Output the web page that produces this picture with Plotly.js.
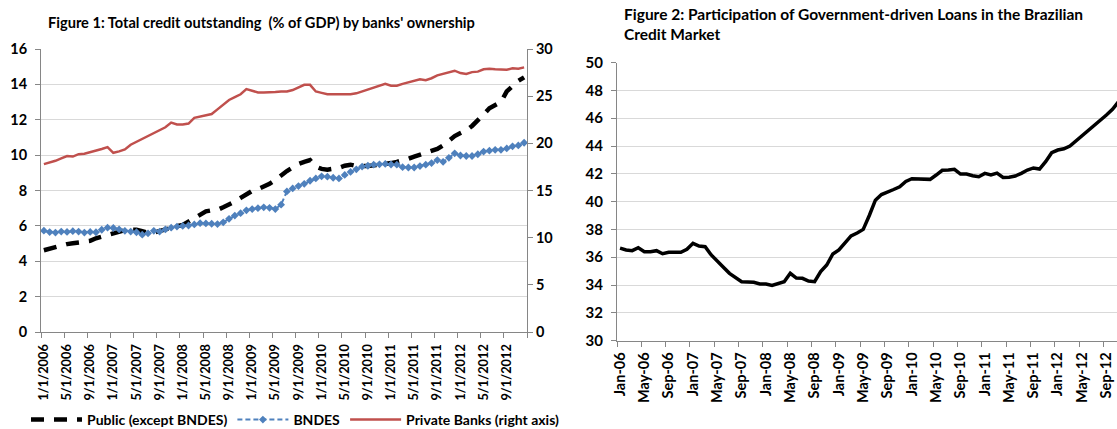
<!DOCTYPE html>
<html>
<head>
<meta charset="utf-8">
<script src="https://cdn.plot.ly/plotly-3.0.1.min.js"></script>
<style>html,body{margin:0;padding:0;background:#fff;} #chart{width:1117px;height:429px;}</style>
</head>
<body>
<div id="chart"></div>
<script>
// ---------- DATA (monthly, Jan 2006 onward) ----------
const fig1Ticks = ['1/1/2006','5/1/2006','9/1/2006','1/1/2007','5/1/2007','9/1/2007','1/1/2008','5/1/2008','9/1/2008',
  '1/1/2009','5/1/2009','9/1/2009','1/1/2010','5/1/2010','9/1/2010','1/1/2011','5/1/2011','9/1/2011','1/1/2012','5/1/2012','9/1/2012'];
const fig2Ticks = ['Jan-06','May-06','Sep-06','Jan-07','May-07','Sep-07','Jan-08','May-08','Sep-08','Jan-09','May-09','Sep-09',
  'Jan-10','May-10','Sep-10','Jan-11','May-11','Sep-11','Jan-12','May-12','Sep-12'];

// Figure 1 – % of GDP
const publicExBndes = [4.62,4.72,4.83,4.90,4.97,5.02,5.07,5.10,5.15,5.30,5.40,5.50,
  5.62,5.72,5.76,5.79,5.78,5.70,5.62,5.62,5.72,5.80,5.90,5.98,
  6.05,6.25,6.40,6.60,6.82,6.88,6.90,7.05,7.20,7.37,7.58,7.80,
  7.98,8.08,8.22,8.38,8.60,8.88,9.10,9.30,9.50,9.62,9.72,9.35,
  9.22,9.18,9.20,9.28,9.40,9.46,9.38,9.35,9.38,9.42,9.45,9.50,
  9.55,9.62,9.68,9.80,9.92,10.02,10.12,10.20,10.35,10.55,10.85,11.08,
  11.25,11.40,11.65,11.95,12.30,12.65,12.80,13.00,13.60,13.90,14.20,14.40];
const bndes = [5.73,5.65,5.62,5.68,5.66,5.70,5.68,5.62,5.66,5.64,5.78,5.90,
  5.88,5.80,5.72,5.68,5.64,5.50,5.58,5.72,5.68,5.80,5.90,5.96,
  6.00,6.02,6.08,6.15,6.14,6.12,6.10,6.20,6.40,6.58,6.72,6.88,
  6.95,7.00,7.05,7.02,6.95,7.20,7.95,8.12,8.25,8.38,8.55,8.68,
  8.80,8.78,8.72,8.68,8.88,9.05,9.20,9.35,9.40,9.46,9.48,9.50,
  9.47,9.46,9.32,9.30,9.30,9.38,9.46,9.55,9.72,9.62,9.85,10.10,
  9.98,9.95,9.95,10.05,10.20,10.25,10.30,10.30,10.38,10.50,10.55,10.70];
const privateBanks = [17.80,17.95,18.15,18.40,18.65,18.60,18.85,18.90,19.05,19.20,19.40,19.60,
  19.00,19.15,19.35,19.85,20.15,20.45,20.80,21.10,21.35,21.70,22.20,22.00,
  22.00,22.10,22.70,22.85,22.95,23.10,23.60,24.10,24.60,24.90,25.20,25.75,
  25.60,25.40,25.40,25.40,25.45,25.50,25.50,25.65,25.95,26.20,26.20,25.50,
  25.35,25.20,25.20,25.20,25.20,25.20,25.30,25.50,25.70,25.90,26.10,26.30,
  26.10,26.10,26.30,26.45,26.60,26.80,26.70,26.90,27.20,27.35,27.50,27.70,
  27.45,27.35,27.55,27.60,27.85,27.90,27.85,27.85,27.80,27.95,27.90,28.05];

// Figure 2 – % of total credit
const govShare = [36.65,36.52,36.47,36.68,36.40,36.40,36.47,36.25,36.35,36.33,36.35,36.57,
  37.00,36.80,36.76,36.16,35.68,35.27,34.84,34.53,34.24,34.22,34.19,34.08,
  34.07,33.97,34.12,34.24,34.84,34.50,34.48,34.28,34.24,34.96,35.44,36.23,
  36.52,37.05,37.53,37.74,38.00,39.00,40.10,40.51,40.66,40.87,41.07,41.45,
  41.65,41.62,41.60,41.60,41.91,42.25,42.27,42.32,41.98,41.98,41.86,41.79,
  42.03,41.92,42.05,41.74,41.76,41.84,42.03,42.27,42.42,42.34,42.87,43.52,
  43.71,43.80,44.00,44.36,44.74,45.15,45.46,45.87,46.23,46.64,47.20];

// ---------- CHART ----------
const idx = arr => arr.map((_, i) => i);
const FONT = 'Lato, "Open Sans", sans-serif';
const AX = '#868686', GRID = '#D9D9D9';
const W = 1117, H = 429;
const px = v => v / W, py = v => 1 - v / H;

const boundaries = n => Array.from({length: n + 1}, (_, k) => -0.5 + 4 * k);
const bold = size => ({family: FONT, size: size, color: '#000', weight: 'bold'});

const traces = [
  {x: idx(publicExBndes), y: publicExBndes, name: 'Public (except BNDES)', type: 'scatter', mode: 'lines',
   line: {color: '#000000', width: 4.5, dash: '13px,10px'}, xaxis: 'x', yaxis: 'y'},
  {x: idx(bndes), y: bndes, name: 'BNDES', type: 'scatter', mode: 'lines+markers',
   line: {color: '#4F81BD', width: 2, dash: '5px,3px'}, marker: {symbol: 'diamond', size: 6, color: '#4F81BD'},
   xaxis: 'x', yaxis: 'y'},
  {x: idx(privateBanks), y: privateBanks, name: 'Private Banks (right axis)', type: 'scatter', mode: 'lines',
   line: {color: '#C0504D', width: 2.5}, xaxis: 'x', yaxis: 'y2'},
  {x: idx(govShare), y: govShare, name: 'Government-driven', type: 'scatter', mode: 'lines', showlegend: false,
   line: {color: '#000000', width: 3.5}, xaxis: 'x2', yaxis: 'y3'}
];

const xCommon = {
  showline: true, linecolor: AX, linewidth: 1, showgrid: false, zeroline: false,
  tickmode: 'array', ticks: '', tickangle: -90, automargin: false
};
const yCommon = {
  showline: true, linecolor: AX, linewidth: 1, zeroline: false, ticks: 'outside', ticklen: 5,
  tickcolor: AX, automargin: false
};

const layout = {
  width: W, height: H, margin: {l: 0, r: 0, t: 0, b: 0, autoexpand: false},
  paper_bgcolor: '#fff', plot_bgcolor: '#fff', font: {family: FONT, color: '#000'},
  showlegend: true,
  legend: {orientation: 'h', x: px(26), xanchor: 'left', y: py(420), yanchor: 'middle',
           bgcolor: 'rgba(0,0,0,0)', font: bold(14), itemwidth: 51, tracegroupgap: 0},
  xaxis: Object.assign({}, xCommon, {
    domain: [px(41), px(527)], anchor: 'y', range: [-0.5, 83.5], tickfont: bold(12.8), ticklabelstandoff: 6,
    tickvals: fig1Ticks.map((_, k) => 4 * k), ticktext: fig1Ticks,
    minor: {tickmode: 'array', tickvals: boundaries(21), ticks: 'outside', ticklen: 5, tickcolor: AX, showgrid: false}
  }),
  yaxis: Object.assign({}, yCommon, {
    domain: [py(332), py(49)], anchor: 'x', range: [0, 16], dtick: 2, showgrid: true, gridcolor: GRID,
    ticklabelstandoff: 5, tickfont: bold(14.5)
  }),
  yaxis2: Object.assign({}, yCommon, {
    overlaying: 'y', side: 'right', anchor: 'x', range: [0, 30], dtick: 5, showgrid: false, tickfont: bold(14.5)
  }),
  xaxis2: Object.assign({}, xCommon, {
    domain: [px(617), 1], anchor: 'y3', range: [-0.5, 81.74], tickfont: bold(14.5), ticklabelstandoff: 5,
    tickvals: fig2Ticks.map((_, k) => 4 * k), ticktext: fig2Ticks,
    minor: {tickmode: 'array', tickvals: boundaries(21), ticks: 'outside', ticklen: 5, tickcolor: AX, showgrid: false}
  }),
  yaxis3: Object.assign({}, yCommon, {
    domain: [py(340.6), py(62.6)], anchor: 'x2', range: [30, 50], dtick: 2, showgrid: true, gridcolor: GRID,
    ticklabelstandoff: 5, tickfont: bold(15)
  }),
  annotations: [
    {xref: 'paper', yref: 'paper', x: px(46), y: py(22), xanchor: 'left', yanchor: 'middle', showarrow: false,
     text: "Figure 1: Total credit outstanding \u00A0(% of GDP) by banks' ownership", font: bold(14.6)},
    {xref: 'paper', yref: 'paper', x: px(622), y: py(24), xanchor: 'left', yanchor: 'middle', showarrow: false, align: 'left',
     text: 'Figure 2: Participation of Government-driven Loans in the Brazilian<br>Credit Market', font: bold(15.5)}
  ]
};

Plotly.newPlot('chart', traces, layout, {displayModeBar: false, staticPlot: true});
</script>
</body>
</html>
